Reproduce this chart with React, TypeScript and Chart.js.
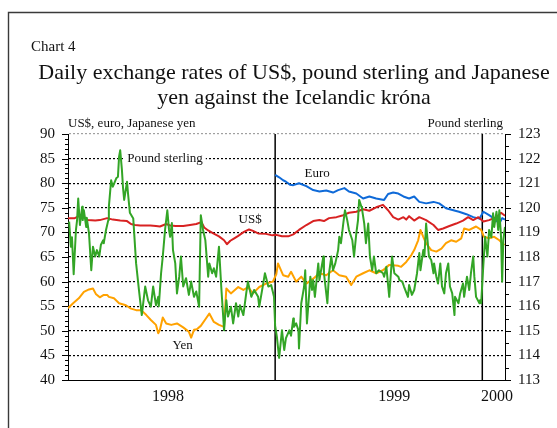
import React, { useEffect, useRef } from 'react';
import { Chart, registerables } from 'chart.js';

Chart.register(...registerables);

const FONT = "'Liberation Serif', 'Times New Roman', serif";

// x axis: days since 1 January 1998
const xMin = 0;
const xMax = 770;
const xTickDays = [176, 575, 756];
const xTickLabels = ['1998', '1999', '2000'];
const yearBoundaryDays = [365, 730];

// left axis (US$, euro, yen) and right axis (pound sterling)
const leftMin = 40;
const leftMax = 90;
const rightMin = 113;
const rightMax = 123;

const usdDays = [0, 12, 21, 28, 35, 48, 56, 69, 79, 92, 104, 111, 118, 127, 145, 155, 162, 173, 180, 190, 203, 215, 226, 235, 240, 247, 256, 266, 275, 280, 286, 293, 300, 310, 319, 326, 335, 349, 360, 367, 377, 388, 397, 407, 420, 432, 443, 451, 460, 473, 485, 495, 508, 520, 531, 543, 555, 564, 573, 582, 591, 596, 601, 610, 619, 631, 644, 652, 661, 672, 684, 696, 705, 714, 723, 732, 742, 755, 763, 770];
const usdValues = [72.9, 72.9, 73.4, 73.1, 72.5, 72.4, 72.5, 72.9, 72.6, 72.4, 72.3, 71.7, 71.5, 71.4, 71.4, 71.3, 71.2, 71.7, 71.4, 71.3, 71.3, 71.5, 71.7, 72.1, 71.0, 70.4, 69.8, 69.2, 68.4, 67.6, 68.3, 68.8, 69.3, 70.1, 70.6, 70.3, 69.8, 69.7, 69.4, 69.5, 69.2, 69.2, 69.6, 70.5, 71.5, 72.3, 72.5, 72.3, 72.9, 73.1, 73.5, 74.0, 74.2, 74.7, 74.4, 75.1, 75.6, 74.5, 73.1, 72.6, 73.1, 72.6, 73.3, 72.4, 73.1, 72.5, 71.5, 70.5, 70.8, 71.3, 71.8, 72.4, 73.1, 72.5, 73.1, 72.2, 72.5, 73.1, 74.0, 73.4];

const euroDays = [365, 372, 379, 384, 391, 397, 407, 420, 432, 443, 455, 467, 476, 487, 495, 508, 520, 531, 543, 557, 564, 573, 582, 591, 601, 610, 619, 631, 644, 654, 666, 679, 689, 702, 714, 725, 732, 742, 751, 760, 765, 770];
const euroValues = [81.7, 81.2, 80.6, 80.3, 79.7, 79.6, 80.0, 79.4, 78.6, 78.3, 78.5, 78.1, 78.6, 79.0, 78.3, 77.9, 76.9, 77.3, 76.9, 76.6, 77.8, 78.1, 77.9, 77.3, 76.9, 77.3, 76.2, 75.9, 76.2, 75.9, 74.9, 74.5, 74.2, 73.7, 73.1, 72.8, 74.2, 73.5, 72.8, 71.8, 72.9, 72.6];

const yenDays = [0, 9, 19, 28, 37, 44, 49, 56, 63, 69, 72, 81, 90, 102, 111, 120, 129, 138, 146, 155, 159, 162, 167, 173, 182, 192, 203, 213, 217, 222, 227, 234, 243, 249, 257, 266, 275, 279, 287, 300, 309, 317, 326, 337, 349, 361, 367, 370, 379, 388, 393, 402, 411, 420, 432, 443, 455, 467, 478, 490, 499, 508, 520, 531, 543, 555, 566, 582, 587, 596, 605, 610, 617, 621, 626, 631, 640, 649, 658, 666, 675, 684, 693, 698, 707, 719, 728, 733, 742, 751, 760, 769];
const yenValues = [54.6, 55.6, 56.6, 57.9, 58.4, 58.6, 57.5, 56.8, 57.3, 57.3, 56.9, 56.6, 55.6, 55.2, 54.5, 54.2, 54.2, 53.2, 52.2, 51.2, 49.5, 50.2, 52.7, 51.5, 51.2, 51.5, 50.7, 49.8, 48.6, 50.2, 50.3, 51.0, 52.5, 53.5, 51.8, 51.2, 50.8, 58.6, 57.6, 58.9, 58.3, 58.9, 57.6, 58.9, 59.6, 60.0, 61.5, 63.7, 61.3, 61.0, 62.0, 60.0, 61.0, 59.6, 60.6, 61.7, 61.3, 62.3, 61.3, 61.0, 59.3, 61.0, 61.7, 62.3, 61.7, 62.3, 63.4, 63.2, 63.0, 64.0, 65.4, 66.4, 68.4, 70.5, 69.1, 67.8, 66.4, 66.1, 66.7, 67.8, 68.4, 68.1, 68.8, 70.8, 70.5, 71.2, 70.5, 69.1, 68.8, 69.1, 68.4, 67.4];

const poundDays = [2, 5, 7, 10, 14, 16, 18, 21, 25, 26, 28, 32, 33, 37, 41, 44, 48, 51, 55, 58, 62, 63, 67, 71, 72, 76, 79, 85, 88, 90, 92, 95, 97, 99, 104, 106, 109, 115, 120, 125, 130, 136, 141, 146, 150, 155, 159, 160, 164, 167, 171, 175, 178, 180, 183, 185, 189, 192, 196, 199, 203, 208, 213, 217, 222, 226, 231, 234, 238, 242, 247, 249, 254, 257, 261, 266, 270, 275, 279, 282, 287, 291, 296, 300, 303, 309, 314, 317, 323, 328, 335, 337, 344, 347, 353, 358, 363, 365, 368, 372, 377, 381, 384, 390, 393, 397, 398, 402, 406, 407, 411, 414, 416, 418, 421, 425, 427, 430, 432, 435, 441, 443, 450, 451, 457, 460, 464, 467, 471, 476, 478, 481, 485, 488, 492, 495, 501, 504, 508, 511, 513, 517, 518, 522, 525, 529, 532, 536, 539, 543, 548, 555, 557, 561, 566, 571, 575, 582, 584, 589, 592, 599, 601, 606, 610, 615, 619, 621, 626, 628, 631, 636, 640, 644, 645, 649, 652, 656, 659, 663, 666, 670, 673, 677, 681, 682, 688, 691, 696, 698, 703, 707, 710, 714, 716, 719, 725, 726, 728, 732, 735, 739, 742, 746, 749, 751, 755, 758, 760, 763, 765, 767, 770];
const poundValues = [
  119.44, 118.42, 118.8, 117.3, 119.1, 119.5, 120.38, 119.3, 120.04, 119.5,
  119.9, 119.22, 119.6, 118.96, 117.46, 118.42, 118.02, 118.28, 118.02, 118.5,
  118.68, 118.56, 119.1, 119.5, 120.04, 121.12, 120.86, 121.2, 121.26, 122.08,
  122.34, 121.54, 120.8, 120.32, 121.06, 120.52, 119.8, 119.56, 117.74, 116.66,
  115.64, 116.8, 116.24, 115.98, 116.8, 116.04, 116.38, 116.0, 117.34, 118.02,
  119.1, 119.9, 119.1, 118.82, 119.38, 118.28, 117.74, 116.52, 117.2, 118.02,
  116.8, 117.14, 116.46, 117.0, 116.38, 116.6, 115.98, 119.7, 119.1, 118.68,
  117.2, 117.74, 117.34, 117.54, 117.2, 118.42, 116.8, 115.02, 116.24, 115.58,
  115.98, 115.3, 116.12, 115.58, 116.04, 115.64, 116.52, 117.0, 116.38, 116.66,
  116.38, 115.98, 116.92, 117.34, 116.8, 116.86, 116.38, 115.2, 114.76, 113.9,
  115.02, 114.22, 114.7, 115.02, 114.8, 115.5, 115.16, 115.3, 115.02, 114.28,
  116.12, 116.52, 116.8, 117.46, 115.3, 116.52, 117.2, 116.66, 117.06, 116.38,
  117.74, 117.06, 118.02, 117.34, 116.12, 117.34, 118.02, 117.46, 117.74, 118.28,
  118.82, 118.56, 119.36, 119.9, 119.5, 119.1, 118.68, 118.02, 118.96, 119.5,
  120.32, 120.04, 119.96, 119.36, 118.56, 119.36, 118.02, 117.46, 118.02, 117.34,
  117.46, 117.34, 117.2, 117.6, 116.38, 118.02, 117.34, 117.2, 117.06, 117.0,
  116.8, 116.38, 116.86, 116.46, 116.66, 117.34, 118.16, 117.46, 118.28, 118.02,
  119.36, 118.02, 117.88, 117.34, 117.74, 117.2, 116.92, 117.74, 116.8, 116.52,
  117.34, 117.74, 116.8, 116.52, 115.64, 116.38, 116.12, 116.52, 116.92, 116.38,
  117.2, 116.66, 117.34, 118.02, 117.2, 116.38, 116.12, 116.24, 116.12, 117.74,
  118.82, 118.02, 119.1, 118.8, 119.78, 119.22, 119.84, 119.1, 119.9, 118.82, 117.0, 118.68, 119.22,
];

// series name labels placed in data coordinates (left axis scale)
const seriesLabels = [
  { text: 'Pound sterling', day: 171, value: 85, box: true },
  { text: 'US$', day: 321, value: 72.6, box: false },
  { text: 'Euro', day: 439, value: 81.9, box: false },
  { text: 'Yen', day: 202, value: 46.9, box: false },
];

const chartLabel = 'Chart 4';
const titleLines = [
  'Daily exchange rates of US$, pound sterling and Japanese',
  'yen against the Icelandic króna',
];
const leftAxisTitle = 'US$, euro, Japanese yen';
const rightAxisTitle = 'Pound sterling';

const toPoints = (days: number[], vals: number[]) => days.map((d, i) => ({ x: d, y: vals[i] }));

const decorPlugin = {
  id: 'decor',
  beforeDraw(chart: any) {
    const { ctx } = chart;
    ctx.save();
    ctx.strokeStyle = '#3a3a3a';
    ctx.lineWidth = 1.4;
    ctx.beginPath();
    ctx.moveTo(8.5, 428);
    ctx.lineTo(8.5, 12.5);
    ctx.lineTo(557, 12.5);
    ctx.stroke();

    ctx.fillStyle = '#111';
    ctx.textBaseline = 'alphabetic';
    ctx.font = `15px ${FONT}`;
    ctx.textAlign = 'left';
    ctx.fillText(chartLabel, 31, 51);
    ctx.font = `22px ${FONT}`;
    ctx.textAlign = 'center';
    ctx.fillText(titleLines[0], 294, 79);
    ctx.fillText(titleLines[1], 294, 104);
    ctx.font = `13px ${FONT}`;
    ctx.textAlign = 'left';
    ctx.fillText(leftAxisTitle, chart.chartArea.left, 127);
    ctx.textAlign = 'right';
    ctx.fillText(rightAxisTitle, chart.chartArea.right - 2, 127);
    ctx.restore();
  },
  beforeDatasetsDraw(chart: any) {
    const { ctx, chartArea } = chart;
    const xs = chart.scales.x;
    ctx.save();
    ctx.strokeStyle = '#000';
    ctx.lineWidth = 1.5;
    yearBoundaryDays.forEach((d) => {
      const px = xs.getPixelForValue(d);
      ctx.beginPath();
      ctx.moveTo(px, chartArea.top);
      ctx.lineTo(px, chartArea.bottom);
      ctx.stroke();
    });
    ctx.restore();
  },
  afterDatasetsDraw(chart: any) {
    const { ctx } = chart;
    const xs = chart.scales.x;
    const ys = chart.scales.y;
    ctx.save();
    ctx.font = `13px ${FONT}`;
    ctx.textAlign = 'center';
    ctx.textBaseline = 'middle';
    seriesLabels.forEach((l) => {
      const px = xs.getPixelForValue(l.day);
      const py = ys.getPixelForValue(l.value);
      if (l.box) {
        const w = ctx.measureText(l.text).width;
        ctx.fillStyle = '#fff';
        ctx.fillRect(px - w / 2 - 3, py - 6, w + 6, 12);
      }
      ctx.fillStyle = '#111';
      ctx.fillText(l.text, px, py);
    });
    ctx.restore();
  },
  afterDraw(chart: any) {
    const { ctx, chartArea } = chart;
    const yl = chart.scales.y;
    const yr = chart.scales.y2;
    ctx.save();
    ctx.strokeStyle = '#000';
    ctx.lineWidth = 1;
    for (let v = leftMin; v <= leftMax; v += 1) {
      const py = Math.round(yl.getPixelForValue(v)) + 0.5;
      const len = v % 5 === 0 ? 6 : 3;
      ctx.beginPath();
      ctx.moveTo(chartArea.left - len, py);
      ctx.lineTo(chartArea.left, py);
      ctx.stroke();
    }
    const steps = (rightMax - rightMin) * 2;
    for (let i = 0; i <= steps; i++) {
      const v = rightMin + i * 0.5;
      const py = Math.round(yr.getPixelForValue(v)) + 0.5;
      const len = i % 2 === 0 ? 6 : 4;
      ctx.beginPath();
      ctx.moveTo(chartArea.right, py);
      ctx.lineTo(chartArea.right + len, py);
      ctx.stroke();
    }
    ctx.restore();
  },
};

export default function App() {
  const ref = useRef<HTMLCanvasElement>(null);
  useEffect(() => {
    if (!ref.current) return;
    const chart = new Chart(ref.current, {
      type: 'line',
      data: {
        datasets: [
          {
            label: 'Pound sterling',
            data: toPoints(poundDays, poundValues),
            borderColor: '#33a526',
            yAxisID: 'y2',
          },
          {
            label: 'US$',
            data: toPoints(usdDays, usdValues),
            borderColor: '#d82222',
            yAxisID: 'y',
          },
          {
            label: 'Yen',
            data: toPoints(yenDays, yenValues),
            borderColor: '#ffa200',
            yAxisID: 'y',
          },
          {
            label: 'Euro',
            data: toPoints(euroDays, euroValues),
            borderColor: '#0f6ad8',
            yAxisID: 'y',
          },
        ] as any,
      },
      options: {
        animation: false,
        responsive: false,
        devicePixelRatio: 1,
        elements: {
          point: { radius: 0 },
          line: { borderWidth: 2, tension: 0, borderJoinStyle: 'round' },
        },
        layout: { padding: { top: 134, left: 0, right: 0, bottom: 0 } },
        plugins: {
          legend: { display: false },
          tooltip: { enabled: false },
          title: { display: false },
        },
        scales: {
          x: {
            type: 'linear',
            min: xMin,
            max: xMax,
            afterBuildTicks: (scale: any) => {
              scale.ticks = xTickDays.map((v) => ({ value: v }));
            },
            afterFit: (scale: any) => {
              scale.height = 48;
            },
            grid: { display: false, drawTicks: false },
            border: { display: true, color: '#000', width: 1 },
            ticks: {
              autoSkip: false,
              maxRotation: 0,
              padding: 7,
              color: '#111',
              font: { family: FONT, size: 16 },
              callback: (value: any) => {
                const i = xTickDays.indexOf(Number(value));
                return i >= 0 ? xTickLabels[i] : '';
              },
            },
          },
          y: {
            type: 'linear',
            position: 'left',
            min: leftMin,
            max: leftMax,
            afterFit: (scale: any) => {
              scale.width = 68;
            },
            grid: {
              drawTicks: false,
              lineWidth: 1.2,
              color: (ctx: any) => {
                const v = ctx.tick && ctx.tick.value;
                if (v === leftMin) return 'rgba(0,0,0,0)';
                if (v === leftMax) return '#a0a0a0';
                return '#000';
              },
            },
            border: { display: true, color: '#000', width: 1, dash: [2, 2] },
            ticks: {
              stepSize: 5,
              padding: 13,
              color: '#111',
              font: { family: FONT, size: 15 },
            },
          },
          y2: {
            type: 'linear',
            position: 'right',
            min: rightMin,
            max: rightMax,
            afterFit: (scale: any) => {
              scale.width = 52;
            },
            grid: { drawOnChartArea: false, drawTicks: false },
            border: { display: true, color: '#000', width: 1 },
            ticks: {
              stepSize: 1,
              padding: 13,
              color: '#111',
              font: { family: FONT, size: 15 },
            },
          },
        },
      } as any,
      plugins: [decorPlugin],
    });
    return () => chart.destroy();
  }, []);
  return (
    <div style={{ position: 'absolute', left: 0, top: 0, width: 557, height: 428, background: '#fff' }}>
      <canvas ref={ref} width={557} height={428} style={{ display: 'block' }} />
    </div>
  );
}
